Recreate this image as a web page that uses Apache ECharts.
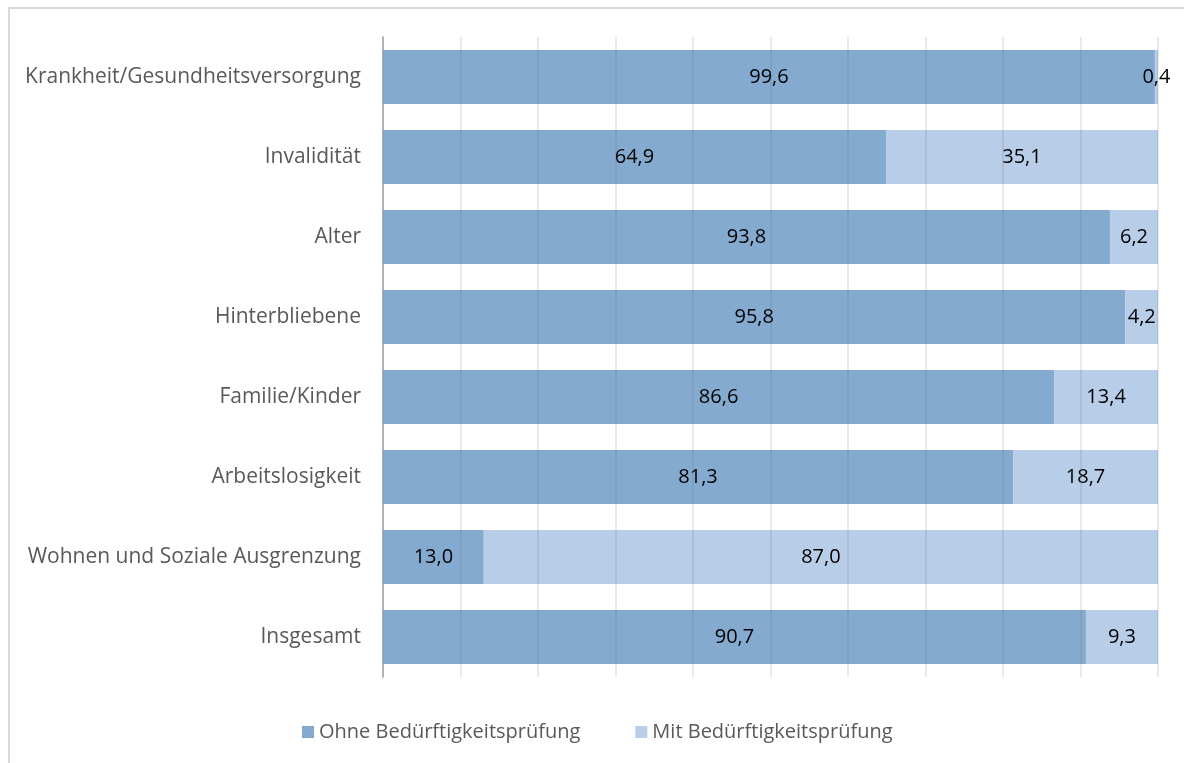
<!DOCTYPE html>
<html>
<head>
<meta charset="utf-8">
<script src="https://cdn.jsdelivr.net/npm/echarts@6/dist/echarts.min.js"></script>
<style>
	html, body {margin: 0; padding: 0; background: #fff;}
	#frame {
		position: absolute;
		left: 8px;
		top: 7px;
		width: 1200px;
		height: 800px;
		border: 2px solid #d9d9d9;
	}
	#chart {position: absolute; left: 0; top: 0; width: 1184px; height: 763px;}
</style>
</head>
<body>
<div id="frame"></div>
<div id="chart"></div>
<script>
const categories = [
	'Krankheit/Gesundheitsversorgung',
	'Invalidität',
	'Alter',
	'Hinterbliebene',
	'Familie/Kinder',
	'Arbeitslosigkeit',
	'Wohnen und Soziale Ausgrenzung',
	'Insgesamt',
];
const ohneValues = [99.6, 64.9, 93.8, 95.8, 86.6, 81.3, 13.0, 90.7];
const mitValues = [0.4, 35.1, 6.2, 4.2, 13.4, 18.7, 87.0, 9.3];
const seriesNames = ['Ohne Bedürftigkeitsprüfung', 'Mit Bedürftigkeitsprüfung'];
const colors = ['#84aacf', '#b7cde8'];

const font = 'Open Sans';

function fmt(p) {
	return p.value.toFixed(1).replace('.', ',');
}

function makeSeries(name, data, color) {
	return {
		name,
		type: 'bar',
		stack: 'total',
		data,
		barWidth: 54,
		itemStyle: {color},
		label: {
			show: true,
			position: 'inside',
			color: '#000',
			fontFamily: font,
			fontSize: 20,
			formatter: fmt,
		},
	};
}

const chart = echarts.init(document.getElementById('chart'));
chart.setOption({
	animation: false,
	textStyle: {fontFamily: font},
	color: colors,
	grid: {left: 383, right: 26, top: 37, bottom: 86, containLabel: false},
	legend: {
		left: 297,
		top: 717,
		icon: 'rect',
		itemWidth: 12,
		itemHeight: 12,
		itemGap: 55,
		textStyle: {color: '#595959', fontSize: 20, fontFamily: font},
		data: seriesNames,
	},
	xAxis: {
		type: 'value',
		min: 0,
		max: 100,
		interval: 10,
		z: 3,
		axisLine: {show: false},
		axisTick: {show: false},
		axisLabel: {show: false},
		splitLine: {show: true, lineStyle: {color: 'rgba(100,100,100,0.14)', width: 2}},
	},
	yAxis: {
		type: 'category',
		inverse: true,
		data: categories,
		axisLine: {show: true, lineStyle: {color: '#bfbfbf', width: 2}},
		axisTick: {show: false},
		axisLabel: {margin: 22, color: '#595959', fontSize: 21, fontFamily: font},
	},
	series: [
		makeSeries(seriesNames[0], ohneValues, colors[0]),
		makeSeries(seriesNames[1], mitValues, colors[1]),
	],
});
</script>
</body>
</html>
